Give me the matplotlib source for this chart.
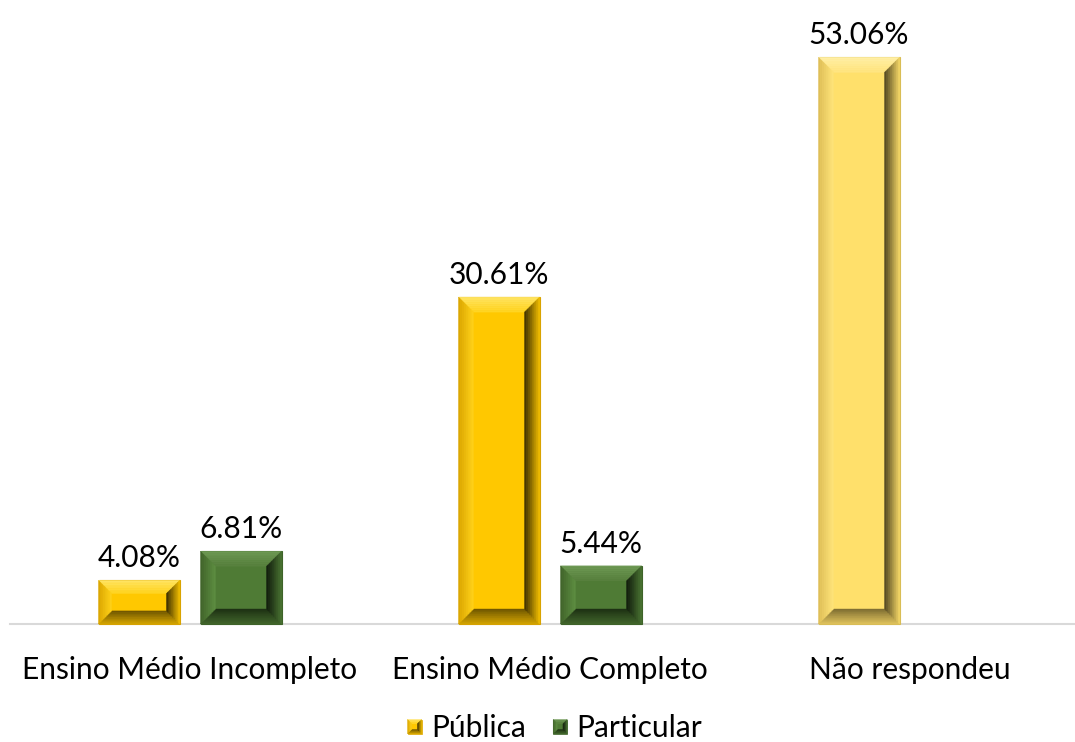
import numpy as np
import matplotlib
matplotlib.use("Agg")
import matplotlib.pyplot as plt
from matplotlib.patches import Polygon, Rectangle
from matplotlib.legend_handler import HandlerBase
from matplotlib.colors import to_rgb

categories = ["Ensino Médio Incompleto", "Ensino Médio Completo", "Não respondeu"]
series_names = ["Pública", "Particular"]
publica = [4.08, 30.61, 53.06]
particular = [6.81, 5.44, np.nan]

FONT = ["Lato", "DejaVu Sans"]
plt.rcParams["font.family"] = FONT
FS = 21.5

W, H, DPI = 1075, 742, 100
fig = plt.figure(figsize=(W / DPI, H / DPI), dpi=DPI)

left_px, right_px = 10, 1075
base_px = 624  # from top
ax = fig.add_axes([left_px / W, 1 - base_px / H, (right_px - left_px) / W, base_px / H])
cat_px = 360.0
ax.set_xlim(-0.5, -0.5 + (right_px - left_px) / cat_px)
px_per_unit = 10.68
ax.set_ylim(0, base_px / px_per_unit)

x = np.arange(len(categories))
off = 51 / cat_px
bw = 81 / cat_px

PAL = {
    "yellow": dict(main="#FFC800", edge="#D9A300",
                   top=("#FFE566", "#FFD41F"), left=("#D9A400", "#FFD21A"),
                   right=("#F2BE00", "#3A2D00"), bottom=("#D6A600", "#6B5300")),
    "light": dict(main="#FFE06B", edge="#D9BD55",
                  top=("#FFF0A8", "#FFE47E"), left=("#DDBD55", "#FFE47A"),
                  right=("#F5D766", "#4F4420"), bottom=("#E3C55E", "#7A6A30")),
    "green": dict(main="#4F7B35", edge="#3E6329",
                  top=("#6E9A55", "#577F3C"), left=("#3F6229", "#5E8E42"),
                  right=("#4A7432", "#101A0C"), bottom=("#42672C", "#1C2E12")),
}


def lerp(c1, c2, t):
    a, b = np.array(to_rgb(c1)), np.array(to_rgb(c2))
    return tuple(a + (b - a) * t)


def bevel_artists(x0, y0, x1, y1, pal, b, transform, n=8, z=3, lw=0.8):
    arts = [Rectangle((x0, y0), x1 - x0, y1 - y0, facecolor=pal["main"],
                      edgecolor=pal["edge"], linewidth=lw, transform=transform, zorder=z)]
    for i in range(n):
        d0, d1 = b * i / n, b * (i + 1) / n
        t = (i + 0.5) / n
        quads = {
            "top": [(x0 + d0, y1 - d0), (x1 - d0, y1 - d0), (x1 - d1, y1 - d1), (x0 + d1, y1 - d1)],
            "bottom": [(x0 + d0, y0 + d0), (x1 - d0, y0 + d0), (x1 - d1, y0 + d1), (x0 + d1, y0 + d1)],
            "left": [(x0 + d0, y0 + d0), (x0 + d0, y1 - d0), (x0 + d1, y1 - d1), (x0 + d1, y0 + d1)],
            "right": [(x1 - d0, y0 + d0), (x1 - d0, y1 - d0), (x1 - d1, y1 - d1), (x1 - d1, y0 + d1)],
        }
        for side, pts in quads.items():
            c = lerp(pal[side][0], pal[side][1], t)
            arts.append(Polygon(pts, closed=True, facecolor=c, edgecolor=c, linewidth=0.3,
                                transform=transform, zorder=z + 0.1))
    return arts


bars_pub = ax.bar(x - off, publica, bw, color="none", edgecolor="none")
bars_par = ax.bar(x + off, particular, bw, color="none", edgecolor="none")

pub_pals = ["yellow", "yellow", "light"]
ident = matplotlib.transforms.IdentityTransform()


def bar_pixels(rect):
    (px0, py0) = ax.transData.transform((rect.get_x(), 0))
    (px1, py1) = ax.transData.transform((rect.get_x() + rect.get_width(), rect.get_height()))
    return px0, py0, px1, py1


def draw_bar(rect, pk):
    px0, py0, px1, py1 = bar_pixels(rect)
    b = min(15, 0.3 * (py1 - py0))
    for a in bevel_artists(px0, py0, px1, py1, PAL[pk], b, ident):
        fig.add_artist(a)


for rect, pk in zip(bars_pub, pub_pals):
    draw_bar(rect, pk)
for rect, val in zip(bars_par, particular):
    if not np.isnan(val):
        draw_bar(rect, "green")

for xs, vals in ((x - off, publica), (x + off, particular)):
    for xi, v in zip(xs, vals):
        if np.isnan(v):
            continue
        ax.annotate(f"{v:.2f}%", (xi, v), xytext=(0, 6), textcoords="offset points",
                    ha="center", va="bottom", fontsize=FS, color="#000000")

for s in ("left", "right", "top"):
    ax.spines[s].set_visible(False)
ax.spines["bottom"].set_color("#D9D9D9")
ax.spines["bottom"].set_linewidth(1.5)
ax.set_yticks([])
ax.set_xticks(x)
ax.set_xticklabels(categories, fontsize=FS)
ax.tick_params(axis="x", length=0, pad=23)
ax.patch.set_alpha(0)


class BevelHandler(HandlerBase):
    def __init__(self, pal):
        super().__init__()
        self.pal = pal

    def create_artists(self, legend, orig_handle, xdescent, ydescent, width, height, fontsize, trans):
        s = 14 / (DPI / 72)
        cx = width / 2 - xdescent
        cy = height / 2 - ydescent
        x0, y0 = cx - s / 2, cy - s / 2
        return bevel_artists(x0, y0, x0 + s, y0 + s, self.pal, s * 0.3, trans, n=3, lw=0.5)


h1 = Rectangle((0, 0), 1, 1)
h2 = Rectangle((0, 0), 1, 1)
fig.legend([h1, h2], series_names, loc="center", bbox_to_anchor=(0.516, 1 - 728 / H),
           ncol=2, frameon=False, fontsize=FS, handlelength=0.5, handletextpad=0.3,
           columnspacing=0.9,
           handler_map={h1: BevelHandler(PAL["yellow"]), h2: BevelHandler(PAL["green"])})

fig.savefig("out.png", dpi=DPI)
